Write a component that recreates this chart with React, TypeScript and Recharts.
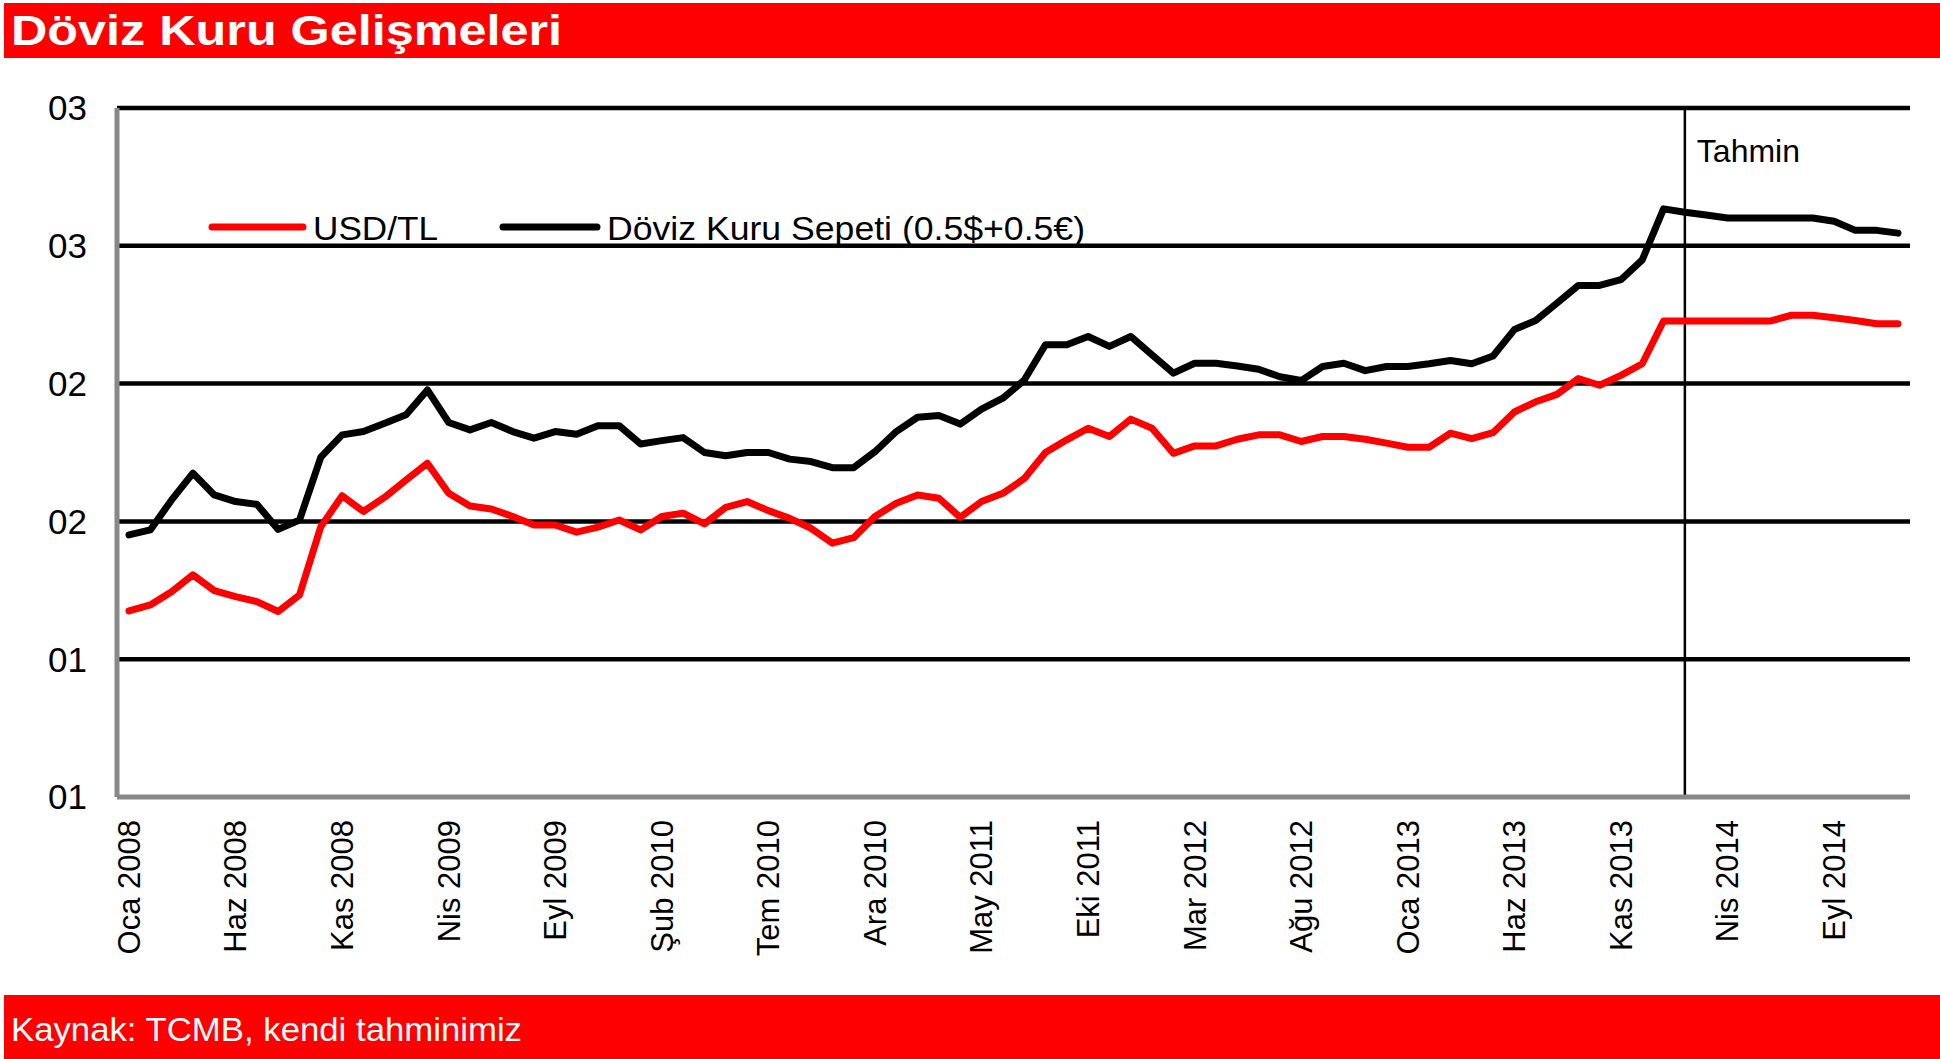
import React from "react";
import { LineChart, Line, XAxis, YAxis, CartesianGrid, ReferenceLine, Legend } from "recharts";

const monthNames = ["Oca", "Şub", "Mar", "Nis", "May", "Haz", "Tem", "Ağu", "Eyl", "Eki", "Kas", "Ara"];
const years = [2008, 2009, 2010, 2011, 2012, 2013, 2014];
const categories = years.flatMap((y) => monthNames.map((m) => `${m} ${y}`));

const usdTl = [
  1.175, 1.197, 1.245, 1.306, 1.249, 1.227, 1.209, 1.173, 1.233, 1.481, 1.593, 1.536,
  1.588, 1.650, 1.711, 1.602, 1.556, 1.545, 1.518, 1.487, 1.487, 1.461, 1.479, 1.505,
  1.469, 1.518, 1.530, 1.491, 1.551, 1.572, 1.539, 1.511, 1.475, 1.421, 1.441, 1.518,
  1.566, 1.596, 1.584, 1.515, 1.572, 1.602, 1.655, 1.750, 1.796, 1.838, 1.808, 1.871,
  1.838, 1.747, 1.774, 1.774, 1.798, 1.814, 1.814, 1.790, 1.808, 1.808, 1.798, 1.784,
  1.769, 1.769, 1.820, 1.800, 1.822, 1.897, 1.934, 1.961, 2.018, 1.994, 2.030, 2.072,
  2.227, 2.227, 2.227, 2.227, 2.227, 2.227, 2.248, 2.248, 2.239, 2.229, 2.217, 2.217,
];

const basket = [
  1.451, 1.469, 1.578, 1.675, 1.596, 1.572, 1.562, 1.471, 1.505, 1.733, 1.814, 1.826,
  1.856, 1.887, 1.977, 1.859, 1.832, 1.859, 1.826, 1.802, 1.826, 1.816, 1.847, 1.847,
  1.781, 1.793, 1.804, 1.750, 1.738, 1.750, 1.750, 1.726, 1.717, 1.695, 1.695, 1.753,
  1.826, 1.878, 1.884, 1.853, 1.907, 1.947, 2.012, 2.141, 2.141, 2.171, 2.135, 2.171,
  2.104, 2.038, 2.074, 2.074, 2.064, 2.052, 2.025, 2.011, 2.062, 2.074, 2.047, 2.062,
  2.062, 2.072, 2.084, 2.072, 2.100, 2.196, 2.229, 2.292, 2.356, 2.356, 2.377, 2.449,
  2.634, 2.622, 2.612, 2.601, 2.601, 2.601, 2.601, 2.601, 2.589, 2.556, 2.556, 2.546,
];

const yTicks = [0.5, 1, 1.5, 2, 2.5, 3];
const forecastStart = "Şub 2014";
const titleText = "Döviz Kuru Gelişmeleri";
const sourceText = "Kaynak: TCMB, kendi tahminimiz";
const usdName = "USD/TL";
const basketName = "Döviz Kuru Sepeti (0.5$+0.5€)";

const data = categories.map((c, i) => ({ month: c, usd: usdTl[i], basket: basket[i] }));

const FONT = "'Liberation Sans', Arial, Helvetica, sans-serif";
const RED = "#FF0000";

const XTick = (props: any) => {
  const { x, y, payload } = props;
  const ty = y + 23;
  return (
    <text
      x={x}
      y={ty}
      transform={`rotate(-90, ${x}, ${ty})`}
      textAnchor="end"
      dy="0.35em"
      fontSize={31}
      fill="#000"
      fontFamily={FONT}
    >
      {payload.value}
    </text>
  );
};

const legendLayout: Record<string, { lineX1: number; lineX2: number; textX: number; textLen: number }> = {
  usd: { lineX1: 12, lineX2: 103, textX: 113, textLen: 125 },
  basket: { lineX1: 303, lineX2: 397, textX: 407, textLen: 478 },
};

const renderLegend = (props: any) => {
  const items = props.payload || [];
  return (
    <svg width={900} height={60}>
      {items.map((it: any, i: number) => {
        const l = legendLayout[it.dataKey] || legendLayout.usd;
        return (
          <g key={i}>
            <line x1={l.lineX1} x2={l.lineX2} y1={27} y2={27} stroke={it.color} strokeWidth={7} strokeLinecap="round" />
            <text x={l.textX} y={40} fontSize={33} fontFamily={FONT} fill="#000" textLength={l.textLen} lengthAdjust="spacingAndGlyphs">
              {it.value}
            </text>
          </g>
        );
      })}
    </svg>
  );
};

const TahminLabel = (props: any) => {
  const vb = props.viewBox || {};
  return (
    <text x={(vb.x || 0) + 12} y={(vb.y || 0) + 54} fontSize={32} fontFamily={FONT} fill="#000">
      Tahmin
    </text>
  );
};

export default function App() {
  return (
    <div style={{ position: "absolute", left: 0, top: 0, width: 1940, height: 1059, background: "#fff", overflow: "hidden" }}>
      <svg style={{ position: "absolute", left: 0, top: 0 }} width={1940} height={60}>
        <rect x={4} y={3} width={1936} height={55} fill={RED} />
        <text x={11} y={45} fontSize={42} fontWeight="bold" fontFamily={FONT} fill="#fff" textLength={551} lengthAdjust="spacingAndGlyphs">
          {titleText}
        </text>
      </svg>
      <div style={{ position: "absolute", left: 0, top: 0 }}>
        <LineChart width={1940} height={990} data={data} margin={{ top: 108, right: 30, bottom: 13, left: 0 }}>
          <CartesianGrid horizontal={true} vertical={false} stroke="#000" strokeWidth={4.5} horizontalValues={[1, 1.5, 2, 2.5, 3]} />
          <XAxis
            dataKey="month"
            scale="point"
            padding={{ left: 12, right: 12 }}
            interval={4}
            tick={<XTick />}
            tickLine={false}
            tickSize={0}
            tickMargin={0}
            height={180}
            axisLine={{ stroke: "#888888", strokeWidth: 5 }}
          />
          <YAxis
            domain={[0.5, 3]}
            ticks={yTicks}
            type="number"
            width={117}
            tickLine={false}
            tickSize={0}
            tickMargin={30}
            tickFormatter={(v: number) => String(Math.round(v)).padStart(2, "0")}
            tick={{ fontSize: 35, fill: "#000", fontFamily: FONT }}
            axisLine={{ stroke: "#888888", strokeWidth: 5 }}
            allowDataOverflow={true}
          />
          <ReferenceLine x={forecastStart} stroke="#000" strokeWidth={2.5} label={<TahminLabel />} />
          <Line type="linear" dataKey="usd" name={usdName} stroke={RED} strokeWidth={7} dot={false} strokeLinecap="round" strokeLinejoin="round" isAnimationActive={false} />
          <Line type="linear" dataKey="basket" name={basketName} stroke="#000" strokeWidth={7} dot={false} strokeLinecap="round" strokeLinejoin="round" isAnimationActive={false} />
          <Legend
            layout="horizontal"
            verticalAlign="middle"
            align="center"
            itemSorter={null as any}
            content={renderLegend}
            wrapperStyle={{ left: 200, top: 200, width: 900, height: 60 }}
          />
        </LineChart>
      </div>
      <svg style={{ position: "absolute", left: 0, top: 995 }} width={1940} height={64}>
        <rect x={4} y={0} width={1936} height={64} fill={RED} />
        <text x={11} y={46} fontSize={33} fontFamily={FONT} fill="#fff" textLength={511} lengthAdjust="spacingAndGlyphs">
          {sourceText}
        </text>
      </svg>
    </div>
  );
}
